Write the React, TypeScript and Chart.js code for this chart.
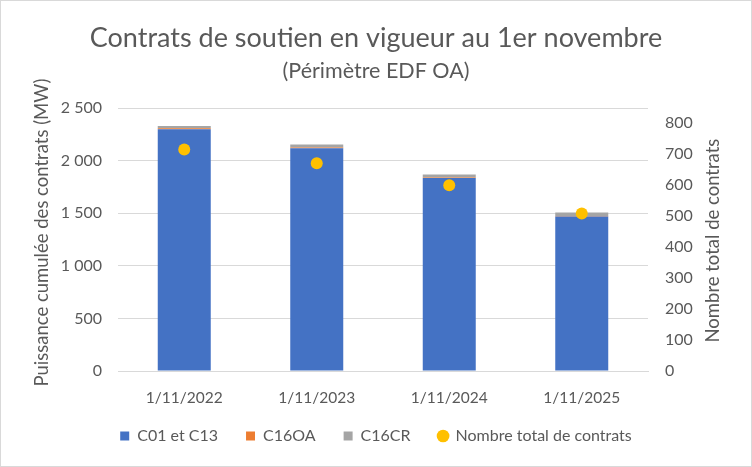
import React, { useEffect, useRef } from 'react'
import { Chart, registerables } from 'chart.js'
Chart.register(...registerables)

const categories = ['1/11/2022', '1/11/2023', '1/11/2024', '1/11/2025']
const c01c13 = [2300, 2120, 1835, 1470]
const c16oa = [10, 5, 5, 5]
const c16cr = [20, 30, 30, 33]
const nbContrats = [715, 670, 599, 508]
const leftTicks = [0, 500, 1000, 1500, 2000, 2500]
const rightTicks = [0, 100, 200, 300, 400, 500, 600, 700, 800]
const leftTitle = 'Puissance cumulée des contrats (MW)'
const rightTitle = 'Nombre total de contrats'

const FONT = 'Lato, "Noto Sans", sans-serif'
const GREY = '#595959'

const fmt = (v: number) => String(v).replace(/\B(?=(\d{3})+(?!\d))/g, ' ')

// axis titles drawn bottom-to-top on both sides, like Excel
const axisTitles = {
  id: 'axisTitles',
  afterDraw(chart: any) {
    const c = chart.ctx
    const area = chart.chartArea
    c.save()
    c.fillStyle = GREY
    c.font = `18.5px ${FONT}`
    c.textAlign = 'center'
    c.textBaseline = 'middle'
    const items: [string, number, number][] = [
      [leftTitle, 41, (area.top + area.bottom) / 2 - 7],
      [rightTitle, 712, (area.top + area.bottom) / 2 + 1]
    ]
    for (const [t, x, y] of items) {
      c.save()
      c.translate(x, y)
      c.rotate(-Math.PI / 2)
      c.fillText(t, 0, 0)
      c.restore()
    }
    c.restore()
  }
}

const App: React.FC = () => {
  const ref = useRef<HTMLCanvasElement | null>(null)
  useEffect(() => {
    document.body.style.margin = '0'
    if (!ref.current) return
    const ctx = ref.current.getContext('2d')!
    const chart = new Chart(ctx, {
      type: 'bar',
      data: {
        labels: categories,
        datasets: [
          { label: 'C01 et C13', data: c01c13, backgroundColor: '#4472C4', yAxisID: 'y', order: 1, barPercentage: 0.4, categoryPercentage: 1 },
          { label: 'C16OA', data: c16oa, backgroundColor: '#ED7D31', yAxisID: 'y', order: 1, barPercentage: 0.4, categoryPercentage: 1 },
          { label: 'C16CR', data: c16cr, backgroundColor: '#A5A5A5', yAxisID: 'y', order: 1, barPercentage: 0.4, categoryPercentage: 1 },
          {
            type: 'line', label: 'Nombre total de contrats', data: nbContrats, yAxisID: 'y1', order: 0,
            showLine: false, pointStyle: 'circle', pointRadius: 6, pointHoverRadius: 6,
            backgroundColor: '#FFC000', borderColor: '#FFC000', borderWidth: 0
          } as any
        ]
      },
      options: {
        animation: false,
        responsive: true,
        maintainAspectRatio: false,
        layout: { padding: { left: 0, right: 0, top: 0, bottom: 12 } },
        plugins: {
          title: {
            display: true, text: 'Contrats de soutien en vigueur au 1er novembre',
            color: GREY, font: { family: FONT, size: 27, weight: 'normal' }, padding: { top: 21, bottom: 0 }
          },
          subtitle: {
            display: true, text: '(Périmètre EDF OA)',
            color: GREY, font: { family: FONT, size: 21.5, weight: 'normal' }, padding: { top: 4, bottom: 24 }
          },
          legend: {
            position: 'bottom',
            labels: {
              color: GREY, font: { family: FONT, size: 16 }, usePointStyle: true,
              boxWidth: 9, boxHeight: 9, padding: 28,
              generateLabels: (ch: any) => ch.data.datasets.map((d: any, i: number) => ({
                text: d.label, fillStyle: d.backgroundColor, strokeStyle: d.backgroundColor, lineWidth: 0,
                pointStyle: i === 3 ? 'circle' : 'rect', datasetIndex: i, hidden: false, fontColor: GREY
              }))
            }
          },
          tooltip: { enabled: false }
        },
        scales: {
          x: {
            stacked: true,
            afterFit: (s: any) => {
              s.height = 29
              // labels sit a little below the shortened axis box, so don't clip them
              s._computeLabelArea = () => undefined
            },
            grid: { display: false },
            border: { color: '#d9d9d9' },
            ticks: { color: GREY, font: { family: FONT, size: 15.5 }, padding: 9.5 }
          },
          y: {
            stacked: true, min: 0, max: 2500,
            afterBuildTicks: (s: any) => { s.ticks = leftTicks.map(v => ({ value: v })) },
            afterFit: (s: any) => { s.width = 117 },
            grid: { color: '#d9d9d9', lineWidth: 1, drawTicks: false },
            border: { display: false },
            ticks: { color: GREY, font: { family: FONT, size: 16 }, padding: 16, callback: (v: any) => fmt(Number(v)) }
          },
          y1: {
            position: 'right', stacked: false, min: 0, max: 848,
            afterBuildTicks: (s: any) => { s.ticks = rightTicks.map(v => ({ value: v })) },
            afterFit: (s: any) => { s.width = 103 },
            grid: { display: false, drawTicks: false },
            border: { display: false },
            ticks: { color: GREY, font: { family: FONT, size: 16 }, padding: 17 }
          }
        }
      },
      plugins: [axisTitles]
    })
    return () => chart.destroy()
  }, [])
  return (
    <div style={{ width: 750, height: 465, border: '1px solid #d9d9d9', background: '#fff' }}>
      <canvas ref={ref} />
    </div>
  )
}

export default App
